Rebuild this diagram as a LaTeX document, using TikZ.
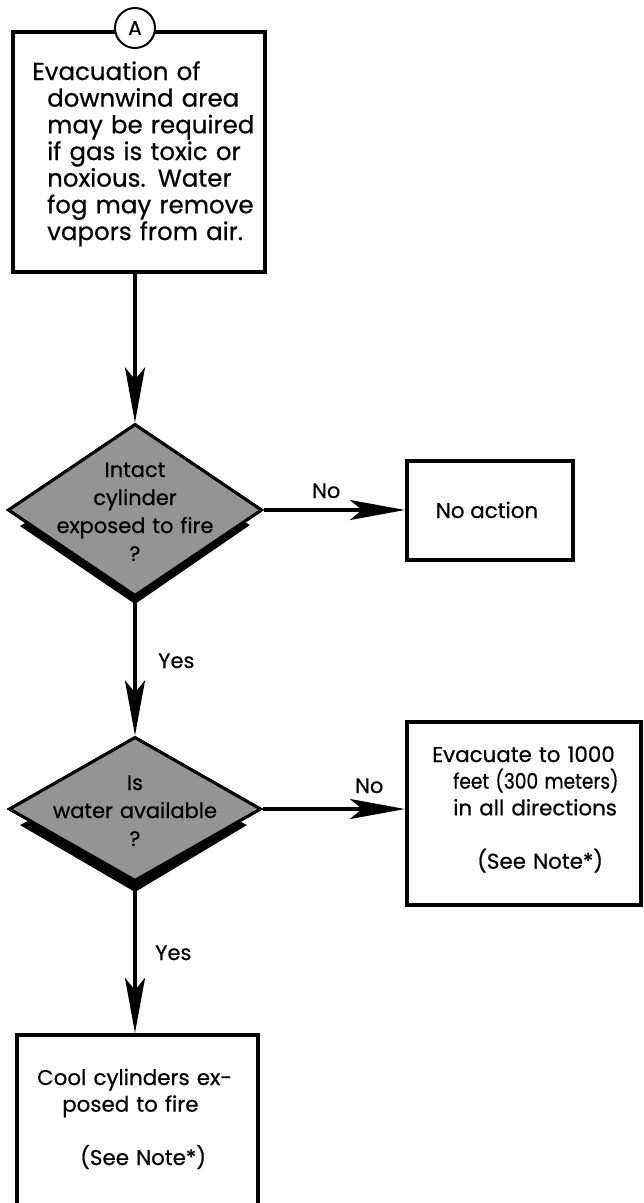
\documentclass[tikz,border=0pt]{standalone}
\usepackage{fontspec}
\usepackage{graphicx}
\setmainfont{Poppins}[FakeBold=0.6]
\usetikzlibrary{arrows.meta,shapes.geometric}
\begin{document}
\begin{tikzpicture}[x=1pt,y=-1pt,
  stepbox/.style={draw=black,line width=4pt,fill=white,inner sep=0pt},
  decision/.style={diamond,draw=black,line width=3pt,fill=black!42,inner sep=0pt},
  shade/.style={fill=black},
  flow/.style={line width=4pt,-{Stealth[length=55pt,width=20pt,inset=12pt]}},
  bigtext/.style={inner sep=0pt,font=\fontsize{24.5}{26.67}\selectfont},
  bodytext/.style={inner sep=0pt,font=\fontsize{21.4}{26.67}\selectfont},
  qtext/.style={inner sep=0pt,text width=220pt,align=center,font=\fontsize{21}{28}\selectfont},
  answer/.style={inner sep=0pt,anchor=base west,font=\fontsize{21}{26}\selectfont}
]
\useasboundingbox (0,0) rectangle (644,1203);
\clip (0,0) rectangle (644,1203);

% boxes
\node[stepbox, minimum width=252pt, minimum height=240pt] (evacdown) at (139,152) {};
\node[circle, draw=black, line width=2pt, fill=white, minimum size=40pt, inner sep=0pt,
      font=\fontsize{20}{22}\selectfont] (conn) at (135,28) {A};
\node[stepbox, minimum width=166pt, minimum height=99pt] (noact) at (490,510) {};
\node[stepbox, minimum width=234pt, minimum height=183pt] (evacall) at (524,813.5) {};
\node[stepbox, minimum width=241pt, minimum height=215pt] (cool) at (137.5,1142.5) {};

% decisions with their drop shadows
\node[decision, minimum width=254pt, minimum height=172pt] (d1) at (135,510) {};
\fill[shade] ([shift={(-115,16)}]d1.center) -- ([shift={(0,94)}]d1.center)
  -- ([shift={(115,15)}]d1.center) -- ([shift={(0,-50)}]d1.center) -- cycle;
\node[decision, minimum width=254pt, minimum height=172pt] at (d1) {};

\node[decision, minimum width=252pt, minimum height=144pt] (d2) at (135,809) {};
\fill[shade] ([shift={(-115,16)}]d2.center) -- ([shift={(0,83)}]d2.center)
  -- ([shift={(112,16)}]d2.center) -- ([shift={(0,-40)}]d2.center) -- cycle;
\node[decision, minimum width=252pt, minimum height=144pt] at (d2) {};

% texts
\node[bigtext, anchor=base west, text width=300pt, align=left] (evacdowntext) at (32,80)
  {Evacuation of\\
   \hspace*{15pt}downwind area\\
   \hspace*{15pt}may be required\\
   \hspace*{15pt}if gas is toxic or\\
   \hspace*{15pt}noxious. Water\\
   \hspace*{15pt}fog may remove\\
   \hspace*{15pt}vapors from air.};
\node[bodytext, anchor=base] (noacttext) at (487,518) {No action};
\node[bodytext, anchor=base west, text width=300pt, align=left] (evacalltext) at (432,762)
  {Evacuate to 1000\\
   \hspace*{21pt}\scalebox{0.87}[1]{feet (300 meters)}\\
   \hspace*{21pt}in all directions\\[26.67pt]
   \hspace*{45pt}(See Note*)};
\node[bodytext, anchor=base west, text width=300pt, align=left] (cooltext) at (37,1085)
  {Cool cylinders ex-\\
   \hspace*{25pt}posed to fire\\[26.67pt]
   \hspace*{43pt}(See Note*)};
\node[qtext, anchor=base] (d1text) at (135,477) {Intact\\cylinder\\exposed to fire\\?};
\node[qtext, anchor=base] (d2text) at (135,790) {Is\\water available\\?};

% connectors
\draw[flow] (d1.north |- evacdown.south) -- (d1.north);
\draw[flow] (d1.east) -- (d1.east -| noact.west);
\draw[flow] (d1.south) -- (d2.north);
\draw[flow] (d2.east) -- (d2.east -| evacall.west);
\draw[flow] (d2.south) -- (cool.north -| d2.south);

% branch labels
\node[answer] (no1) at (312,498) {No};
\node[answer] (no2) at (355,793) {No};
\node[answer] (yes1) at (158,668) {Yes};
\node[answer] (yes2) at (155,960) {Yes};
\end{tikzpicture}
\end{document}
